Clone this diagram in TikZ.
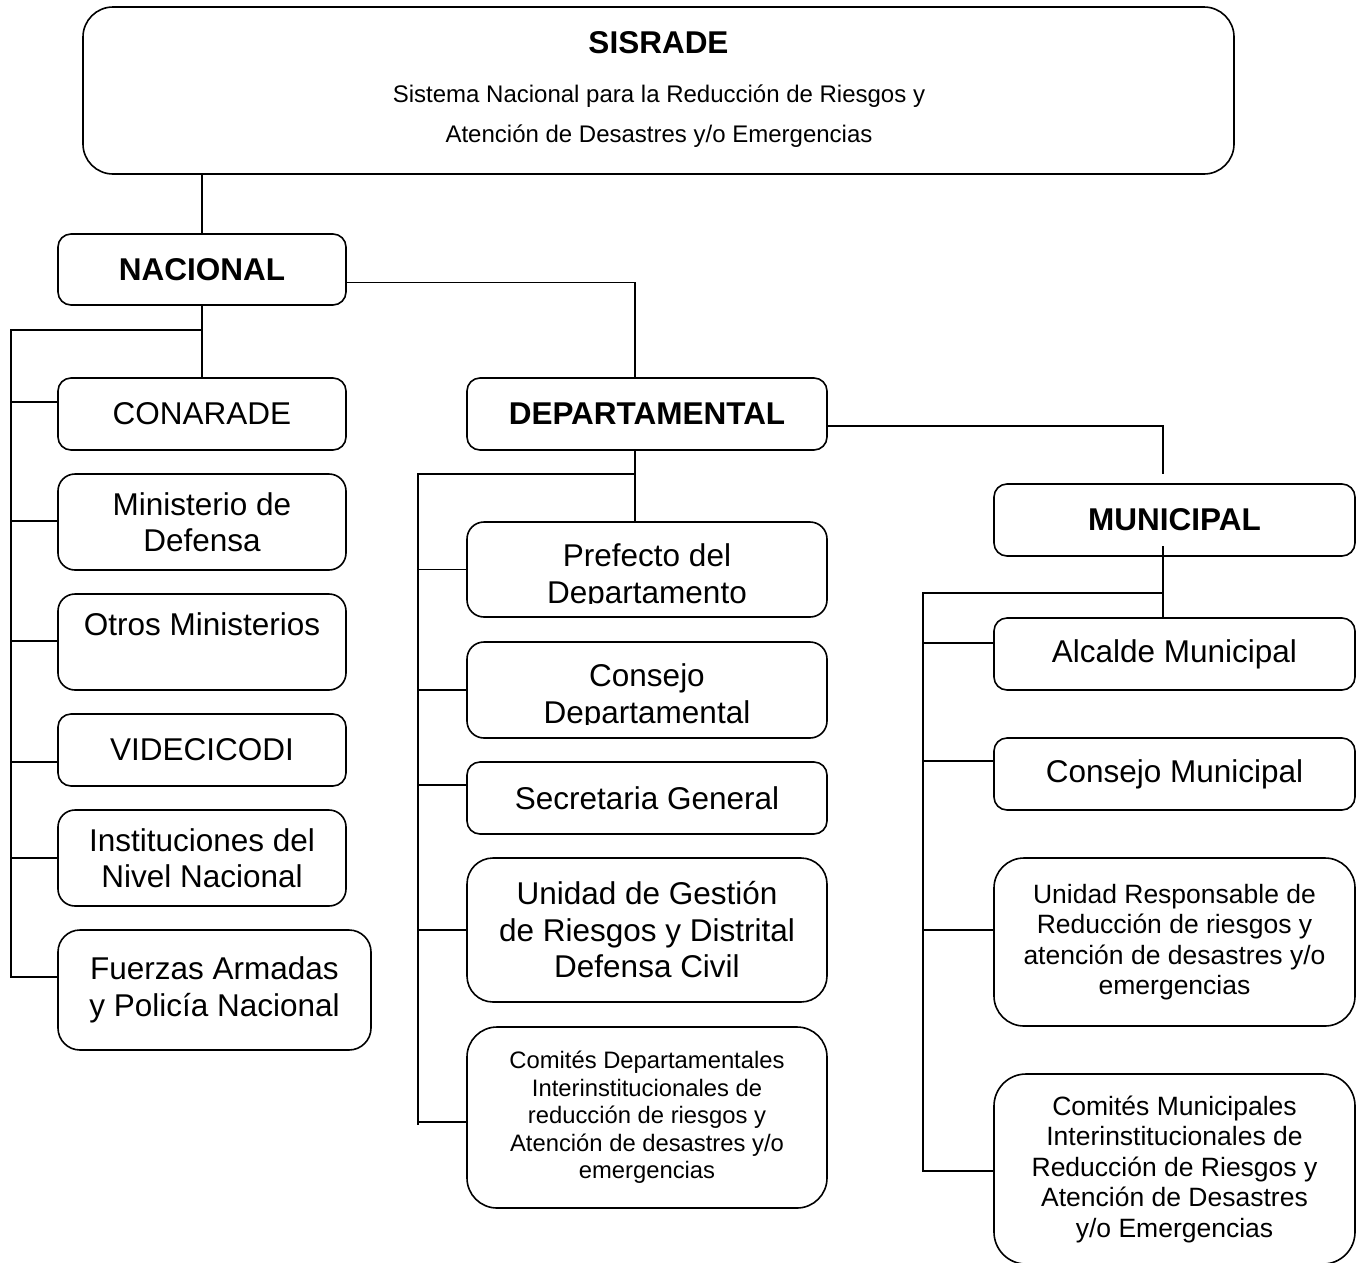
\documentclass[tikz,border=0pt]{standalone}
\usepackage{fontspec}
\setmainfont{Liberation Sans}
\usetikzlibrary{positioning}

\newcommand{\fgr}{\fontsize{31.5}{36.5}\selectfont}
\newcommand{\fmd}{\fontsize{26.5}{30.5}\selectfont}
\newcommand{\fch}{\fontsize{23.8}{27.5}\selectfont}
\newcommand{\fsub}{\fontsize{24}{40}\selectfont}

\tikzset{
  caja/.style={draw, line width=1.6pt, rounded corners=#1, align=center, inner sep=0pt, outer sep=0pt, font=\fgr},
  caja/.default=13pt,
  nivel/.style={font=\fgr\bfseries},
  enlace/.style={line width=1.6pt},
}

\begin{document}
\begin{tikzpicture}[x=1pt,y=-1pt]
      \useasboundingbox (0,0) rectangle (1358,1262);

      % Sistema nacional
      \node[caja=30pt, minimum width=1151pt, minimum height=167pt] (sis) at (658.5,90.5) {};
      \node[anchor=base, inner sep=0pt, nivel] (sisT) at (658.5,53) {SISRADE};
      \node[anchor=base, inner sep=0pt, font=\fsub] (sisA) at (659,102) {Sistema Nacional para la Reducción de Riesgos y};
      \node[anchor=base, inner sep=0pt, font=\fsub] (sisB) at (659,142) {Atención de Desastres y/o Emergencias};

      % Nivel nacional
      \node[caja, nivel, minimum width=288pt, minimum height=71pt] (nac) at (202,269.5) {NACIONAL};
      \node[caja, minimum width=288pt, minimum height=72pt, below=73pt of nac] (conarade) {CONARADE};
      \node[caja=17pt, minimum width=288pt, minimum height=96pt, below=24pt of conarade] (mindef) {Ministerio de\\Defensa};
      \node[caja=17pt, minimum width=288pt, minimum height=96pt, below=24pt of mindef] (otros) {Otros Ministerios\\~};
      \node[caja, minimum width=288pt, minimum height=72pt, below=24pt of otros] (videci) {VIDECICODI};
      \node[caja=17pt, minimum width=288pt, minimum height=96pt, below=24pt of videci] (inst) {Instituciones del\\Nivel Nacional};
      \node[caja=22pt, minimum width=313pt, minimum height=120pt, below=24pt of inst.south west, anchor=north west] (fuerzas) {Fuerzas Armadas\\y Policía Nacional};

      % Nivel departamental
      \node[caja, nivel, minimum width=360pt, minimum height=72pt] (dep) at (647,414) {DEPARTAMENTAL};
      \node[caja=17pt, minimum width=360pt, minimum height=95pt, below=72pt of dep] (pref) {};
      \node[caja=17pt, minimum width=360pt, minimum height=96pt, below=25pt of pref] (consd) {};
      \node[caja, minimum width=360pt, minimum height=72pt, below=24pt of consd] (secr) {Secretaria General};
      \node[caja=26pt, minimum width=360pt, minimum height=144pt, below=24pt of secr] (ugr) {Unidad de Gestión\\de Riesgos y Distrital\\Defensa Civil};
      \node[caja=30pt, font=\fch, minimum width=360pt, minimum height=181pt, below=25pt of ugr] (comd) {Comités Departamentales\\Interinstitucionales de\\reducción de riesgos y\\Atención de desastres y/o\\emergencias};

      % text cut at the bottom of the box
      \begin{scope}
        \clip (pref.north west) rectangle (827,603);
        \node[inner sep=0pt, align=center, font=\fgr] (prefT) at (647,577) {Prefecto del\\Departamento};
      \end{scope}
      \begin{scope}
        \clip (consd.north west) rectangle (827,724);
        \node[inner sep=0pt, align=center, font=\fgr] (consdT) at (647,697) {Consejo\\Departamental};
      \end{scope}

      % Nivel municipal
      \node[caja, nivel, minimum width=361pt, minimum height=72pt] (mun) at (1174.5,520) {MUNICIPAL};
      \node[caja, minimum width=361pt, minimum height=72pt, below=62pt of mun] (alc) {Alcalde Municipal};
      \node[caja, minimum width=361pt, minimum height=72pt, below=48pt of alc] (consm) {Consejo Municipal};
      \node[caja=30pt, font=\fmd, minimum width=361pt, minimum height=168pt, below=48pt of consm] (urr) {Unidad Responsable de\\Reducción de riesgos y\\atención de desastres y/o\\emergencias};
      \node[caja=32pt, font=\fmd, minimum width=361pt, minimum height=190pt, below=48pt of urr] (comm) {Comités Municipales\\Interinstitucionales de\\Reducción de Riesgos y\\Atención de Desastres\\y/o Emergencias};

      % Lineas
      \draw[enlace] (nac.north |- sis.south) -- (nac.north);
      \draw[enlace] (nac.south) -- (conarade.north);
      \draw[enlace] ([yshift=-13pt]nac.east) -| ([xshift=-12pt]dep.north);
      \draw[enlace] (nac.south |- 0,330) -| (11,977) -- ([yshift=13pt]fuerzas.west);
      \foreach \n/\s in {conarade/12, mindef/1, otros/1, videci/-12, inst/0}
        \draw[enlace] ([yshift=\s pt]\n.west) -- ++(-47,0);

      \draw[enlace] ([xshift=-12pt]dep.south) -- ([xshift=-12pt]pref.north);
      \draw[enlace] ([xshift=-12pt]dep.south |- 0,474) -| (418,1125);
      \foreach \n/\s in {pref/0, consd/0, secr/13, ugr/0, comd/-4.5}
        \draw[enlace] ([yshift=\s pt]\n.west) -- ++(-49,0);

      \draw[enlace] ([yshift=-12pt]dep.east) -| ([xshift=-11.5pt,yshift=10pt]mun.north);
      \draw[enlace] ([xshift=-11.5pt,yshift=10pt]mun.south) -- ([xshift=-11.5pt]alc.north);
      \draw[enlace] ([xshift=-11.5pt]alc.north |- 0,593) -| (923,1171) -- ([yshift=-2pt]comm.west);
      \foreach \n/\s in {alc/11, consm/13, urr/12}
        \draw[enlace] ([yshift=\s pt]\n.west) -- ++(-71,0);
\end{tikzpicture}
\end{document}
